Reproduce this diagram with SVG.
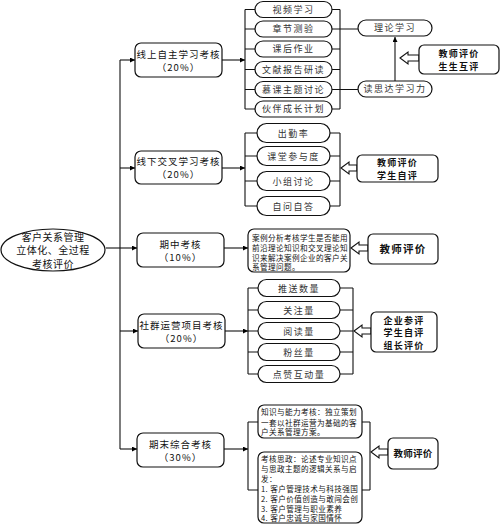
<svg xmlns="http://www.w3.org/2000/svg" width="500" height="524" viewBox="0 0 500 524">
<defs>
<marker id="arr" viewBox="0 0 6 6" refX="6" refY="3" markerWidth="5" markerHeight="5" orient="auto" markerUnits="userSpaceOnUse">
<path d="M0,0 L6,3 L0,6 Z" fill="#000"/>
</marker>
</defs>
<style>
text{font-family:"Noto Sans CJK SC","Noto Sans",sans-serif;fill:#111;}
.box{fill:#fff;stroke:#111;stroke-width:1.2;}
.pill{fill:#fff;stroke:#111;stroke-width:1.2;}
.l1{font-size:9.5px;letter-spacing:1px;text-anchor:middle;}
.pt{font-size:9px;letter-spacing:1.5px;text-anchor:middle;fill:#333;}
.ev{font-size:9px;font-weight:bold;letter-spacing:1.2px;text-anchor:middle;}
.sm{font-size:7.6px;letter-spacing:0.4px;}
.ln{fill:none;stroke:#111;stroke-width:1.1;}
.ha{fill:#fff;stroke:#111;stroke-width:1.1;}
.root{font-size:10px;letter-spacing:0.5px;text-anchor:middle;}
</style>
<rect width="500" height="524" fill="#fff"/>

<g id="connectors">
<path class="ln" d="M106,248 H120"/>
<path class="ln" d="M120,60 V449"/>
<path class="ln" d="M120,60 H135" marker-end="url(#arr)"/>
<path class="ln" d="M120,168 H135" marker-end="url(#arr)"/>
<path class="ln" d="M120,248 H137" marker-end="url(#arr)"/>
<path class="ln" d="M120,331 H138" marker-end="url(#arr)"/>
<path class="ln" d="M120,449 H137" marker-end="url(#arr)"/>
<path class="ln" d="M222,60 H245" marker-end="url(#arr)"/>
<path class="ln" d="M245,9.5 V109 M245,9.5 H255 M245,29 H255 M245,49 H255 M245,69.5 H255 M245,89.5 H255 M245,109 H255"/>
<path class="ln" d="M340,9.5 V109 M332,9.5 H340 M332,29 H340 M332,49 H340 M332,69.5 H340 M332,89.5 H340 M332,109 H340"/>
<path class="ln" d="M340,29 H358 M340,89.5 H358"/>
<path class="ln" d="M395,81 V37" marker-end="url(#arr)"/>
<path class="ha" d="M400,58 L408,52 L408,55 L419,55 L419,61 L408,61 L408,64 Z"/>
<path class="ln" d="M222,168 H245" marker-end="url(#arr)"/>
<path class="ln" d="M245,133 V206 M245,133 H257 M245,156 H257 M245,181 H257 M245,206 H257"/>
<path class="ln" d="M340,133 V206 M330,133 H340 M330,156 H340 M330,181 H340 M330,206 H340"/>
<path class="ha" d="M341,168 L349,162 L349,165 L357,165 L357,171 L349,171 L349,174 Z"/>
<path class="ln" d="M224,248 H248" marker-end="url(#arr)"/>
<path class="ha" d="M351,248 L359,242 L359,245 L368,245 L368,251 L359,251 L359,254 Z"/>
<path class="ln" d="M225,331 H248" marker-end="url(#arr)"/>
<path class="ln" d="M248,288 V374 M248,288 H258 M248,310 H258 M248,331 H258 M248,352 H258 M248,374 H258"/>
<path class="ln" d="M353,288 V374 M340,288 H353 M340,310 H353 M340,331 H353 M340,352 H353 M340,374 H353"/>
<path class="ha" d="M354,331 L362,325 L362,328 L371,328 L371,334 L362,334 L362,337 Z"/>
<path class="ln" d="M224,449 H248" marker-end="url(#arr)"/>
<path class="ln" d="M248,422 V490 M248,422 H258 M248,490 H258"/>
<path class="ln" d="M370,422 V490 M362,422 H370 M362,490 H370"/>
<path class="ha" d="M371,452 L379,446 L379,449 L388,449 L388,455 L379,455 L379,458 Z"/>
</g>

<g id="root">
<ellipse cx="53" cy="250" rx="52" ry="21" class="box"/>
<text class="root" x="53" y="240.5">客户关系管理</text>
<text class="root" x="53" y="254">立体化、全过程</text>
<text class="root" x="53" y="267.5">考核评价</text>
</g>

<g id="n1">
<rect class="box" x="135" y="43" width="87" height="34" rx="6"/>
<text class="l1" x="178.5" y="58">线上自主学习考核</text>
<text class="l1" x="178.5" y="71">（20%）</text>
</g>
<g id="n2">
<rect class="box" x="135" y="151" width="87" height="33" rx="6"/>
<text class="l1" x="178.5" y="165">线下交叉学习考核</text>
<text class="l1" x="178.5" y="178">（20%）</text>
</g>
<g id="n3">
<rect class="box" x="137" y="233" width="87" height="34" rx="6"/>
<text class="l1" x="180.5" y="248">期中考核</text>
<text class="l1" x="180.5" y="261">（10%）</text>
</g>
<g id="n4">
<rect class="box" x="138" y="314" width="87" height="34" rx="6"/>
<text class="l1" x="181.5" y="329">社群运营项目考核</text>
<text class="l1" x="181.5" y="342">（20%）</text>
</g>
<g id="n5">
<rect class="box" x="137" y="433" width="87" height="34" rx="6"/>
<text class="l1" x="180.5" y="448">期末综合考核</text>
<text class="l1" x="180.5" y="461">（30%）</text>
</g>

<g id="g1-items">
<rect class="pill" x="255" y="1.5" width="77" height="16" rx="8"/><text class="pt" x="293.5" y="12.5">视频学习</text>
<rect class="pill" x="255" y="21" width="77" height="16" rx="8"/><text class="pt" x="293.5" y="32">章节测验</text>
<rect class="pill" x="255" y="41" width="77" height="16" rx="8"/><text class="pt" x="293.5" y="52">课后作业</text>
<rect class="pill" x="255" y="61.5" width="77" height="16" rx="8"/><text class="pt" x="293.5" y="72.5">文献报告研读</text>
<rect class="pill" x="255" y="81.5" width="77" height="16" rx="8"/><text class="pt" x="293.5" y="92.5">慕课主题讨论</text>
<rect class="pill" x="255" y="101" width="77" height="16" rx="8"/><text class="pt" x="293.5" y="112">伙伴成长计划</text>
</g>
<g id="theory">
<rect class="pill" x="358" y="20" width="74" height="16" rx="8"/><text class="pt" x="395" y="31">理论学习</text>
</g>
<g id="dusida">
<rect class="pill" x="358" y="81" width="74" height="16" rx="8"/><text class="pt" x="395" y="92">读思达学习力</text>
</g>
<g id="e1">
<rect class="box" x="419" y="45" width="80" height="29" rx="5"/>
<text class="ev" x="459" y="56.5">教师评价</text>
<text class="ev" x="459" y="69.5">生生互评</text>
</g>

<g id="g2-items">
<rect class="pill" x="257" y="123.5" width="73" height="19" rx="9.5"/><text class="pt" x="293.5" y="136.5">出勤率</text>
<rect class="pill" x="257" y="146.5" width="73" height="19" rx="9.5"/><text class="pt" x="293.5" y="159.5">课堂参与度</text>
<rect class="pill" x="257" y="171.5" width="73" height="19" rx="9.5"/><text class="pt" x="293.5" y="184.5">小组讨论</text>
<rect class="pill" x="257" y="196.5" width="73" height="19" rx="9.5"/><text class="pt" x="293.5" y="209.5">自问自答</text>
</g>
<g id="e2">
<rect class="box" x="357" y="155" width="81" height="27" rx="5"/>
<text class="ev" x="397.5" y="166">教师评价</text>
<text class="ev" x="397.5" y="178.5">学生自评</text>
</g>

<g id="midterm">
<rect class="box" x="248" y="229" width="102" height="43" rx="6"/>
<text class="sm" x="252" y="241">案例分析考核学生是否能用</text>
<text class="sm" x="252" y="251">前沿理论知识和交叉理论知</text>
<text class="sm" x="252" y="260.5">识来解决案例企业的客户关</text>
<text class="sm" x="252" y="270">系管理问题。</text>
</g>
<g id="e3">
<rect class="box" x="368" y="234" width="70" height="30" rx="5"/>
<text class="ev" x="403" y="252.5" style="font-size:10.5px">教师评价</text>
</g>

<g id="g4-items">
<rect class="pill" x="258" y="279.5" width="82" height="17" rx="8.5"/><text class="pt" x="299" y="291.5">推送数量</text>
<rect class="pill" x="258" y="301.5" width="82" height="17" rx="8.5"/><text class="pt" x="299" y="313.5">关注量</text>
<rect class="pill" x="258" y="322.5" width="82" height="17" rx="8.5"/><text class="pt" x="299" y="334.5">阅读量</text>
<rect class="pill" x="258" y="343.5" width="82" height="17" rx="8.5"/><text class="pt" x="299" y="355.5">粉丝量</text>
<rect class="pill" x="258" y="365.5" width="82" height="17" rx="8.5"/><text class="pt" x="299" y="377.5">点赞互动量</text>
</g>
<g id="e4">
<rect class="box" x="371" y="312" width="66" height="40" rx="5"/>
<text class="ev" x="404" y="323.5">企业参评</text>
<text class="ev" x="404" y="336">学生自评</text>
<text class="ev" x="404" y="348.5">组长评价</text>
</g>

<g id="final-a">
<rect class="box" x="258" y="405" width="104" height="33" rx="6"/>
<text class="sm" x="261" y="415">知识与能力考核：独立策划</text>
<text class="sm" x="261" y="425.5">一套以社群运营为基础的客</text>
<text class="sm" x="261" y="435">户关系管理方案。</text>
</g>
<g id="final-b">
<rect class="box" x="258" y="452" width="104" height="71" rx="6"/>
<text class="sm" x="261" y="461.5">考核思政：论述专业知识点</text>
<text class="sm" x="261" y="471.5">与思政主题的逻辑关系与启</text>
<text class="sm" x="261" y="481.5">发：</text>
<text class="sm" x="261" y="491.5">1. 客户管理技术与科技强国</text>
<text class="sm" x="261" y="501.5">2. 客户价值创造与敢闯会创</text>
<text class="sm" x="261" y="511.5">3. 客户管理与职业素养</text>
<text class="sm" x="261" y="521">4. 客户忠诚与家国情怀</text>
</g>
<g id="e5">
<rect class="box" x="388" y="438" width="50" height="31" rx="5"/>
<text class="ev" x="413" y="457" style="letter-spacing:0.3px;font-size:9.5px">教师评价</text>
</g>
</svg>
